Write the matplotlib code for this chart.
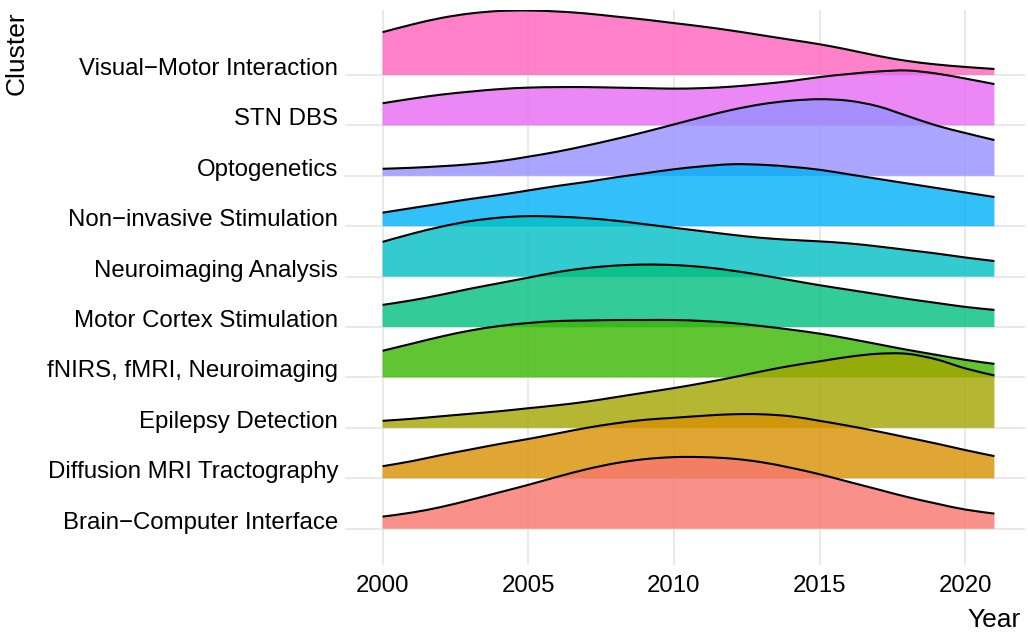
import numpy as np
import matplotlib.pyplot as plt
from matplotlib.path import Path
from matplotlib.patches import PathPatch

years = np.arange(2000, 2022)

# clusters, bottom row first
clusters = [
    "Brain\u2212Computer Interface",
    "Diffusion MRI Tractography",
    "Epilepsy Detection",
    "fNIRS, fMRI, Neuroimaging",
    "Motor Cortex Stimulation",
    "Neuroimaging Analysis",
    "Non\u2212invasive Stimulation",
    "Optogenetics",
    "STN DBS",
    "Visual\u2212Motor Interaction",
]

# ridge heights (in units of row spacing), one list per cluster
bci = [0.24, 0.32, 0.43, 0.57, 0.72, 0.87, 1.03, 1.18, 1.30, 1.38, 1.42,
       1.42, 1.39, 1.32, 1.21, 1.08, 0.93, 0.78, 0.63, 0.50, 0.38, 0.30]
diffusion = [0.24, 0.34, 0.46, 0.57, 0.68, 0.78, 0.89, 1.00, 1.09, 1.16, 1.20,
             1.24, 1.27, 1.27, 1.23, 1.14, 1.04, 0.93, 0.81, 0.69, 0.56, 0.44]
epilepsy = [0.14, 0.18, 0.23, 0.28, 0.33, 0.39, 0.45, 0.52, 0.61, 0.70, 0.79,
            0.89, 1.00, 1.12, 1.23, 1.32, 1.41, 1.47, 1.47, 1.36, 1.18, 1.04]
fnirs = [0.53, 0.67, 0.81, 0.93, 1.02, 1.08, 1.12, 1.13, 1.14, 1.14, 1.14,
         1.12, 1.08, 1.02, 0.95, 0.87, 0.77, 0.66, 0.55, 0.45, 0.35, 0.27]
motor = [0.44, 0.53, 0.64, 0.76, 0.87, 0.98, 1.09, 1.17, 1.22, 1.24, 1.23,
         1.19, 1.12, 1.03, 0.93, 0.83, 0.74, 0.65, 0.56, 0.48, 0.40, 0.34]
neuroimg = [0.69, 0.85, 0.99, 1.10, 1.17, 1.20, 1.19, 1.16, 1.11, 1.04, 0.97,
            0.90, 0.83, 0.77, 0.73, 0.70, 0.66, 0.60, 0.53, 0.46, 0.38, 0.31]
noninv = [0.27, 0.36, 0.45, 0.54, 0.62, 0.71, 0.80, 0.88, 0.97, 1.05, 1.13,
          1.19, 1.23, 1.22, 1.18, 1.12, 1.03, 0.94, 0.85, 0.76, 0.67, 0.58]
opto = [0.14, 0.16, 0.19, 0.23, 0.29, 0.38, 0.48, 0.60, 0.73, 0.87, 1.02,
        1.17, 1.31, 1.42, 1.49, 1.52, 1.49, 1.38, 1.19, 1.00, 0.85, 0.71]
stn = [0.44, 0.53, 0.61, 0.67, 0.72, 0.75, 0.76, 0.76, 0.75, 0.74, 0.73,
       0.74, 0.77, 0.82, 0.88, 0.96, 1.02, 1.07, 1.09, 1.03, 0.93, 0.82]
visual = [0.85, 1.00, 1.13, 1.22, 1.27, 1.28, 1.26, 1.22, 1.16, 1.10, 1.03,
          0.96, 0.88, 0.79, 0.70, 0.61, 0.50, 0.38, 0.28, 0.21, 0.16, 0.12]

heights = [bci, diffusion, epilepsy, fnirs, motor, neuroimg, noninv, opto, stn, visual]

# ggplot hue palette
colors = ["#F8766D", "#D89000", "#A3A500", "#39B600", "#00BF7D",
          "#00BFC4", "#00B0F6", "#9590FF", "#E76BF3", "#FF62BC"]


# smooth outline through the read points (Catmull-Rom as cubic bezier)
def ridge_curve(x, y):
    pts = np.column_stack([x, y]).astype(float)
    verts = [pts[0]]
    codes = [Path.MOVETO]
    for k in range(len(pts) - 1):
        p0 = pts[k - 1] if k > 0 else pts[k]
        p1 = pts[k]
        p2 = pts[k + 1]
        p3 = pts[k + 2] if k + 2 < len(pts) else pts[k + 1]
        verts += [p1 + (p2 - p0) / 6, p2 - (p3 - p1) / 6, p2]
        codes += [Path.CURVE4] * 3
    return verts, codes


plt.rcParams['font.family'] = ['Liberation Sans', 'DejaVu Sans']

fig = plt.figure(figsize=(10.28, 6.32), dpi=100)
ax = fig.add_axes([0.3424, 0.1060, 0.9971 - 0.3424, 0.9842 - 0.1060])

grid_col = "#E3E3E3"
for xv in [2000, 2005, 2010, 2015, 2020]:
    ax.axvline(xv, color=grid_col, lw=1.1, zorder=0)
for i in range(len(clusters)):
    ax.axhline(i, color=grid_col, lw=1.1, zorder=0)

# draw top row first so lower ridges sit on top
n = len(clusters)
for i in range(n - 1, -1, -1):
    top = i + np.array(heights[i])
    verts, codes = ridge_curve(years, top)
    z = 2 * (n - i)
    fill_verts = [(years[0], i)] + verts + [(years[-1], i), (years[0], i)]
    fill_codes = [Path.MOVETO, Path.LINETO] + codes[1:] + [Path.LINETO, Path.CLOSEPOLY]
    ax.add_patch(PathPatch(Path(fill_verts, fill_codes), facecolor=colors[i],
                           alpha=0.8, lw=0, zorder=z))
    ax.add_patch(PathPatch(Path(verts, codes), facecolor="none",
                           edgecolor="black", lw=1.5, zorder=z + 1,
                           capstyle="butt"))

ax.set_xlim(1998.95, 2022.05)
ax.set_ylim(-0.72, 10.29)

ax.set_xticks([2000, 2005, 2010, 2015, 2020])
ax.set_yticks(range(n))
ax.set_yticklabels(clusters, va="baseline")
ax.tick_params(axis="x", length=0, pad=7, labelsize=17.3, labelcolor="black")
ax.tick_params(axis="y", length=5, width=1.1, color=grid_col, pad=5,
               labelsize=17.3, labelcolor="black")

for s in ax.spines.values():
    s.set_visible(False)

fig.text(1021 / 1028, 1 - 627 / 632, "Year", ha="right", va="baseline", fontsize=19)
fig.text(5 / 1028, 1 - 11 / 632, "Cluster", ha="left", va="top", rotation=90, fontsize=19)

fig.savefig("out.png", dpi=100)
